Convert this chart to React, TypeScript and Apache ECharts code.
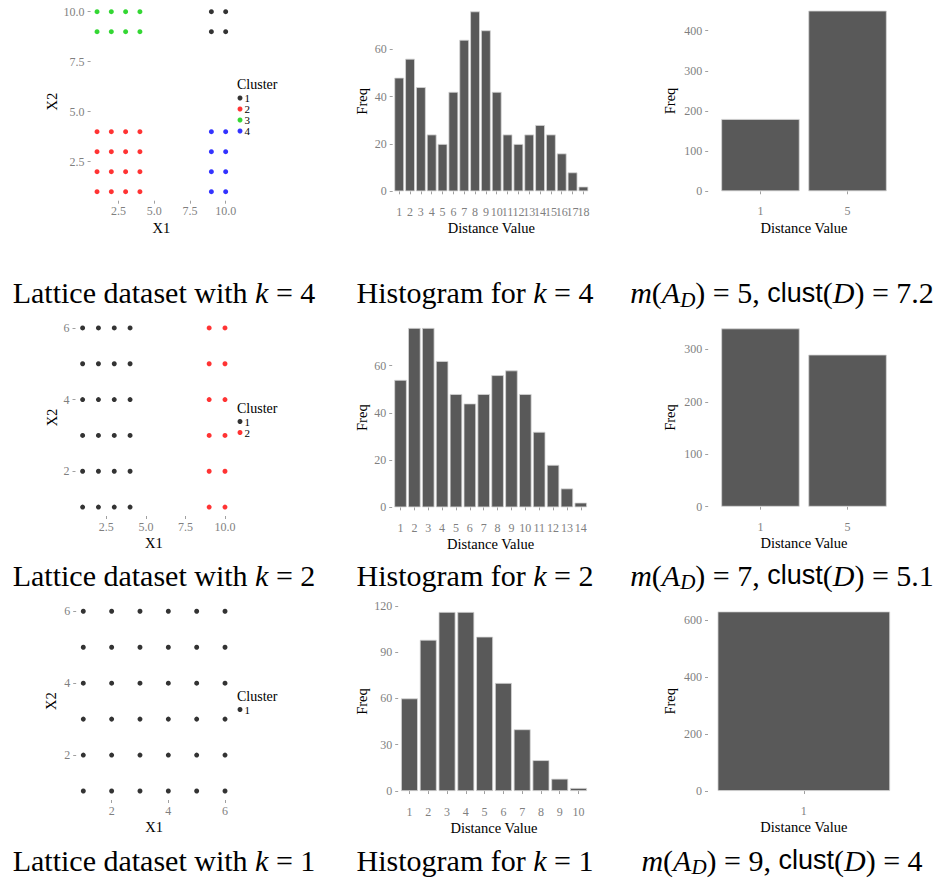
import React, { useEffect, useRef } from 'react';
import * as echarts from 'echarts';

const FONT = 'Liberation Serif';
const SANS = 'Liberation Sans';

// ---------- Row 1: lattice with k = 4 ----------
const k4Cluster1 = [[9, 9], [10, 9], [9, 10], [10, 10]];
const k4Cluster2 = [
  [1, 1], [2, 1], [3, 1], [4, 1], [1, 2], [2, 2], [3, 2], [4, 2],
  [1, 3], [2, 3], [3, 3], [4, 3], [1, 4], [2, 4], [3, 4], [4, 4],
];
const k4Cluster3 = [[1, 9], [2, 9], [3, 9], [4, 9], [1, 10], [2, 10], [3, 10], [4, 10]];
const k4Cluster4 = [[9, 1], [10, 1], [9, 2], [10, 2], [9, 3], [10, 3], [9, 4], [10, 4]];

const hist4Categories = ['1', '2', '3', '4', '5', '6', '7', '8', '9', '10', '11', '12', '13', '14', '15', '16', '17', '18'];
const hist4Freq = [48, 56, 44, 24, 20, 42, 64, 76, 68, 42, 24, 20, 24, 28, 24, 16, 8, 2];
const dist4Categories = ['1', '5'];
const dist4Freq = [180, 450];

// ---------- Row 2: lattice with k = 2 ----------
const k2Cluster1 = [
  [1, 1], [2, 1], [3, 1], [4, 1], [1, 2], [2, 2], [3, 2], [4, 2],
  [1, 3], [2, 3], [3, 3], [4, 3], [1, 4], [2, 4], [3, 4], [4, 4],
  [1, 5], [2, 5], [3, 5], [4, 5], [1, 6], [2, 6], [3, 6], [4, 6],
];
const k2Cluster2 = [
  [9, 1], [10, 1], [9, 2], [10, 2], [9, 3], [10, 3],
  [9, 4], [10, 4], [9, 5], [10, 5], [9, 6], [10, 6],
];
const hist2Categories = ['1', '2', '3', '4', '5', '6', '7', '8', '9', '10', '11', '12', '13', '14'];
const hist2Freq = [54, 76, 76, 62, 48, 44, 48, 56, 58, 48, 32, 18, 8, 2];
const dist2Categories = ['1', '5'];
const dist2Freq = [340, 290];

// ---------- Row 3: lattice with k = 1 ----------
const k1Cluster1 = [
  [1, 1], [2, 1], [3, 1], [4, 1], [5, 1], [6, 1],
  [1, 2], [2, 2], [3, 2], [4, 2], [5, 2], [6, 2],
  [1, 3], [2, 3], [3, 3], [4, 3], [5, 3], [6, 3],
  [1, 4], [2, 4], [3, 4], [4, 4], [5, 4], [6, 4],
  [1, 5], [2, 5], [3, 5], [4, 5], [5, 5], [6, 5],
  [1, 6], [2, 6], [3, 6], [4, 6], [5, 6], [6, 6],
];
const hist1Categories = ['1', '2', '3', '4', '5', '6', '7', '8', '9', '10'];
const hist1Freq = [60, 98, 116, 116, 100, 70, 40, 20, 8, 2];
const dist1Categories = ['1'];
const dist1Freq = [630];

// ---------- tick values / labels ----------
const ticks10 = [2.5, 5, 7.5, 10];
const ticks10Labels = ['2.5', '5.0', '7.5', '10.0'];
const ticks6 = [2, 4, 6];
const ticks6Labels = ['2', '4', '6'];
const hist4Ticks = [0, 20, 40, 60];
const hist2Ticks = [0, 20, 40, 60];
const hist1Ticks = [0, 30, 60, 90, 120];
const dist4Ticks = [0, 100, 200, 300, 400];
const dist2Ticks = [0, 100, 200, 300];
const dist1Ticks = [0, 200, 400, 600];

const clusterNames = ['1', '2', '3', '4'];
const clusterColors = ['#000000', '#FF0000', '#00CD00', '#0000FF'];

const captions = [
  ['{r|Lattice dataset with }{i|k}{r| = 4}', '{r|Histogram for }{i|k}{r| = 4}', '{i|m}{r|(}{i|A}{sub|D}{r|) = 5, }{s|clust}{r|(}{i|D}{r|) = 7.2}'],
  ['{r|Lattice dataset with }{i|k}{r| = 2}', '{r|Histogram for }{i|k}{r| = 2}', '{i|m}{r|(}{i|A}{sub|D}{r|) = 7, }{s|clust}{r|(}{i|D}{r|) = 5.1}'],
  ['{r|Lattice dataset with }{i|k}{r| = 1}', '{r|Histogram for }{i|k}{r| = 1}', '{i|m}{r|(}{i|A}{sub|D}{r|) = 9, }{s|clust}{r|(}{i|D}{r|) = 4}'],
];

const tickLabelStyle = { color: '#7f7f7f', fontFamily: FONT, fontSize: 12 };
const nameStyle = { color: '#000000', fontFamily: FONT, fontSize: 14.5 };
const tickLine = { show: true, length: 3, lineStyle: { color: '#a0a0a0', width: 1 } };

function pickLabel(ticks: number[], labels: string[]) {
  return (v: number) => {
    const i = ticks.findIndex((t) => Math.abs(t - v) < 1e-9);
    return i >= 0 ? labels[i] : '';
  };
}

function valueAxis(grid: number, min: number, max: number, ticks: number[], labels: string[], name: string, nameGap: number, margin: number, offset = 0) {
  return {
    type: 'value',
    gridIndex: grid,
    min,
    max,
    offset,
    name,
    nameLocation: 'middle',
    nameGap,
    nameTextStyle: nameStyle,
    axisLine: { show: false },
    splitLine: { show: false },
    axisTick: { ...tickLine, customValues: ticks },
    axisLabel: { ...tickLabelStyle, margin, customValues: ticks, formatter: pickLabel(ticks, labels) },
  };
}

function categoryAxis(grid: number, cats: string[], name: string, nameGap: number, margin: number) {
  return {
    type: 'category',
    gridIndex: grid,
    data: cats,
    name,
    nameLocation: 'middle',
    nameGap,
    nameTextStyle: nameStyle,
    axisLine: { show: false },
    splitLine: { show: false },
    axisTick: { ...tickLine, alignWithLabel: true, interval: 0 },
    axisLabel: { ...tickLabelStyle, margin, interval: 0 },
  };
}

function padRange(lo: number, hi: number) {
  const e = (hi - lo) * 0.05;
  return [lo - e, hi + e];
}

function freqRange(values: number[]) {
  const m = Math.max(...values);
  return [-0.05 * m, 1.05 * m];
}

// panel rectangles (left, top, width, height)
const panels = [
  { left: 90.6, top: 2.7, width: 141.5, height: 198 },
  { left: 392.7, top: 2.4, width: 197.2, height: 197.9 },
  { left: 708.2, top: 1.6, width: 191.6, height: 198.7 },
  { left: 75.5, top: 319, width: 156.6, height: 197 },
  { left: 392.2, top: 319, width: 196.9, height: 197.3 },
  { left: 708.2, top: 319.5, width: 191.6, height: 196.1 },
  { left: 76.2, top: 602.3, width: 155.9, height: 197.7 },
  { left: 398.2, top: 603, width: 191.6, height: 197 },
  { left: 708, top: 602.5, width: 191.7, height: 197.5 },
];

function barGrid(p: { left: number; top: number; width: number; height: number }, n: number, ggDiscrete = true) {
  if (!ggDiscrete) return { grid: { ...p }, inset: 0 };
  const unit = p.width / (n + 0.2);
  const inset = unit * 0.1;
  return { grid: { left: p.left + inset, top: p.top, width: p.width - 2 * inset, height: p.height }, inset };
}

function buildOption() {
  const hist4 = barGrid(panels[1], hist4Categories.length);
  const dist4 = barGrid(panels[2], dist4Categories.length);
  const hist2 = barGrid(panels[4], hist2Categories.length);
  const dist2 = barGrid(panels[5], dist2Categories.length);
  const hist1 = barGrid(panels[7], hist1Categories.length);
  const dist1 = barGrid(panels[8], dist1Categories.length, false);

  const grids = [
    panels[0], hist4.grid, dist4.grid,
    panels[3], hist2.grid, dist2.grid,
    panels[6], hist1.grid, dist1.grid,
  ].map((g) => ({ ...g, containLabel: false, outerBoundsMode: 'none' }));

  const r10 = padRange(1, 10);
  const r6 = padRange(1, 6);

  const xAxes = [
    valueAxis(0, r10[0], r10[1], ticks10, ticks10Labels, 'X1', 19.5, 4),
    categoryAxis(1, hist4Categories, 'Distance Value', 20, 5.5),
    categoryAxis(2, dist4Categories, 'Distance Value', 20, 4.5),
    valueAxis(3, r10[0], r10[1], ticks10, ticks10Labels, 'X1', 19, 4.5),
    categoryAxis(4, hist2Categories, 'Distance Value', 20.5, 5.5),
    categoryAxis(5, dist2Categories, 'Distance Value', 19.5, 5.5),
    valueAxis(6, r6[0], r6[1], ticks6, ticks6Labels, 'X1', 19.5, 4.5),
    categoryAxis(7, hist1Categories, 'Distance Value', 20.5, 5.5),
    categoryAxis(8, dist1Categories, 'Distance Value', 19.5, 4.5),
  ];

  const fr = (v: number[]) => freqRange(v);
  const h4 = fr(hist4Freq), d4 = fr(dist4Freq), h2 = fr(hist2Freq), d2 = fr(dist2Freq), h1 = fr(hist1Freq), d1 = fr(dist1Freq);
  const lbl = (t: number[]) => t.map(String);

  const yAxes = [
    valueAxis(0, r10[0], r10[1], ticks10, ticks10Labels, 'X2', 31, 6),
    valueAxis(1, h4[0], h4[1], hist4Ticks, lbl(hist4Ticks), 'Freq', 23.3, 6, hist4.inset),
    valueAxis(2, d4[0], d4[1], dist4Ticks, lbl(dist4Ticks), 'Freq', 30.8, 6, dist4.inset),
    valueAxis(3, r6[0], r6[1], ticks6, ticks6Labels, 'X2', 16.5, 6),
    valueAxis(4, h2[0], h2[1], hist2Ticks, lbl(hist2Ticks), 'Freq', 23.2, 6, hist2.inset),
    valueAxis(5, d2[0], d2[1], dist2Ticks, lbl(dist2Ticks), 'Freq', 30.8, 6, dist2.inset),
    valueAxis(6, r6[0], r6[1], ticks6, ticks6Labels, 'X2', 18, 6),
    valueAxis(7, h1[0], h1[1], hist1Ticks, lbl(hist1Ticks), 'Freq', 28.8, 6, hist1.inset),
    valueAxis(8, d1[0], d1[1], dist1Ticks, lbl(dist1Ticks), 'Freq', 30.8, 6, dist1.inset),
  ];

  const scatter = (name: string, axis: number, data: number[][]) => ({
    type: 'scatter',
    name,
    xAxisIndex: axis,
    yAxisIndex: axis,
    data,
    symbol: 'circle',
    symbolSize: 5,
    itemStyle: { color: clusterColors[clusterNames.indexOf(name)] },
    silent: true,
  });

  const bars = (axis: number, data: number[]) => ({
    type: 'bar',
    xAxisIndex: axis,
    yAxisIndex: axis,
    data,
    barWidth: '90%',
    itemStyle: { color: '#595959', borderColor: '#d6d6d6', borderWidth: 0.8 },
    silent: true,
  });

  const series = [
    scatter('1', 0, k4Cluster1),
    scatter('2', 0, k4Cluster2),
    scatter('3', 0, k4Cluster3),
    scatter('4', 0, k4Cluster4),
    bars(1, hist4Freq),
    bars(2, dist4Freq),
    scatter('1', 3, k2Cluster1),
    scatter('2', 3, k2Cluster2),
    bars(4, hist2Freq),
    bars(5, dist2Freq),
    scatter('1', 6, k1Cluster1),
    bars(7, hist1Freq),
    bars(8, dist1Freq),
  ];

  const legend = (names: string[], top: number) => ({
    data: names,
    left: 237.5,
    top,
    orient: 'vertical',
    icon: 'circle',
    itemWidth: 5,
    itemHeight: 5,
    itemGap: 0,
    padding: 0,
    selectedMode: false,
    textStyle: { fontFamily: FONT, fontSize: 11, color: '#000', lineHeight: 8, padding: [0, 0, 0, -3] },
  });

  const legends = [
    legend(clusterNames.slice(0, 4), 92.5),
    legend(clusterNames.slice(0, 2), 416),
    legend(clusterNames.slice(0, 1), 704),
  ];

  const clusterTitle = (y: number) => ({
    type: 'text',
    x: 237,
    y,
    silent: true,
    style: { text: 'Cluster', fontFamily: FONT, fontSize: 14, lineHeight: 12, fill: '#000', align: 'left', verticalAlign: 'middle' },
  });

  const rich = {
    r: { fontFamily: FONT, fontSize: 30, lineHeight: 35, color: '#000', verticalAlign: 'middle' },
    i: { fontFamily: FONT, fontSize: 30, fontStyle: 'italic', lineHeight: 35, color: '#000', verticalAlign: 'middle' },
    s: { fontFamily: SANS, fontSize: 27, lineHeight: 35, color: '#000', verticalAlign: 'middle' },
    sub: { fontFamily: FONT, fontSize: 21, fontStyle: 'italic', lineHeight: 21, color: '#000', verticalAlign: 'bottom' },
  };

  const captionX = [164, 475, 782];
  const captionY = [292.5, 575, 860];
  const captionTexts: any[] = [];
  captions.forEach((row, ri) => {
    row.forEach((txt, ci) => {
      captionTexts.push({
        type: 'text',
        x: captionX[ci],
        y: captionY[ri],
        silent: true,
        style: { text: txt, rich, align: 'center', verticalAlign: 'middle' },
      });
    });
  });

  return {
    animation: false,
    backgroundColor: '#ffffff',
    textStyle: { fontFamily: FONT },
    grid: grids,
    xAxis: xAxes,
    yAxis: yAxes,
    legend: legends,
    series,
    graphic: [clusterTitle(84.7), clusterTitle(408), clusterTitle(696.3), ...captionTexts],
  };
}

export default function App() {
  const ref = useRef<HTMLDivElement>(null);
  useEffect(() => {
    if (!ref.current) return;
    const chart = echarts.init(ref.current, null, { renderer: 'svg' });
    chart.setOption(buildOption() as any);
    return () => chart.dispose();
  }, []);
  return (
    <div
      ref={ref}
      style={{ position: 'absolute', left: 0, top: 0, width: 941, height: 880, background: '#ffffff' }}
    />
  );
}
